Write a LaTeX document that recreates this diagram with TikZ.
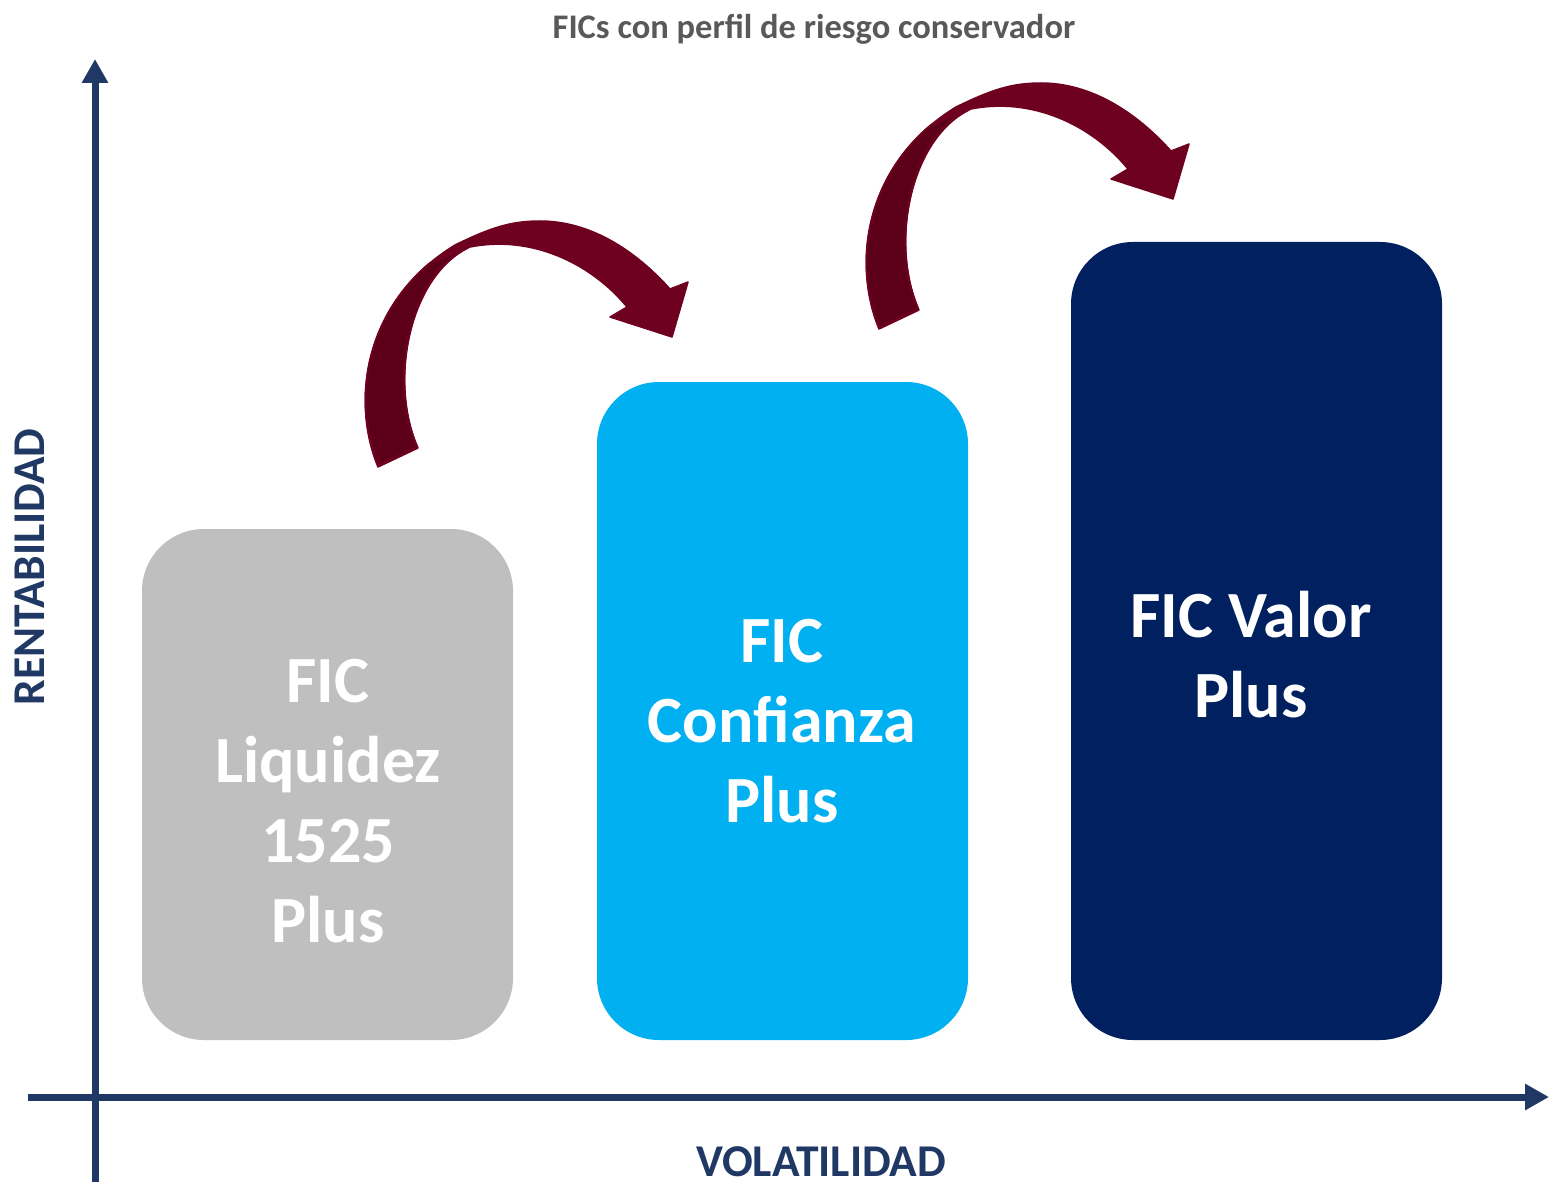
\documentclass[tikz,border=0pt]{standalone}
\usepackage{fontspec}
\setmainfont{Carlito}
\usetikzlibrary{arrows.meta}
\definecolor{axisblue}{HTML}{1F3864}
\definecolor{titlegray}{HTML}{595959}
\definecolor{boxgray}{HTML}{BFBFBF}
\definecolor{boxcyan}{HTML}{00B0F0}
\definecolor{boxnavy}{HTML}{002060}
\definecolor{arrowmain}{HTML}{6E0020}
\definecolor{arrowdark}{HTML}{5C0019}
\tikzset{
  fundbox/.style={rectangle, rounded corners=62pt, draw=none, minimum width=371pt, inner sep=0pt},
  fundtext/.style={text=white, font=\bfseries\fontsize{66}{80}\selectfont, align=center, inner sep=0pt, anchor=north},
  axisline/.style={draw=axisblue, line width=7pt, -{Triangle[length=24pt,width=25pt]}},
  axislabel/.style={text=axisblue, font=\bfseries\fontsize{45.5}{52}\selectfont, inner sep=0pt, anchor=base},
  pics/curlyarrow/.style={code={
    \filldraw[fill=arrowmain, draw=arrowmain, line width=1.5pt, line join=round]
      (378,467) .. controls (350,400) and (365,300) .. (455,245)
      .. controls (490,228) and (510,221) .. (540,221)
      .. controls (590,221) and (635,250) .. (670,289)
      -- (688,282) -- (672,337) -- (610,317) -- (627,307)
      .. controls (590,262) and (530,235) .. (470,247)
      .. controls (410,275) and (388,380) .. (418,448) -- cycle;
    \filldraw[fill=arrowdark, draw=arrowmain, line width=2pt, line join=round]
      (379,465) .. controls (352.8,406.7) and (362.4,319.7) .. (430,263)
      -- (467,248)
      .. controls (410,275) and (388,380) .. (417,447) -- cycle;
  }}
}
\begin{document}
\begin{tikzpicture}[x=1pt,y=-1pt]
\useasboundingbox (0,0) rectangle (1554,1182);
\fill[white] (0,0) rectangle (1554,1182);

% title
\node[text=titlegray, font=\bfseries\fontsize{34.5}{40}\selectfont, inner sep=0pt, anchor=base] (title) at (814,39) {FICs con perfil de riesgo conservador};

% boxes
\node[fundbox, fill=boxgray, minimum height=511pt] (liq) at (327.5,784.5) {};
\node[fundbox, fill=boxcyan, minimum height=658pt] (conf) at (782.5,711) {};
\node[fundbox, fill=boxnavy, minimum height=798pt] (valor) at (1256.5,641) {};

\node[fundtext] (liqtext) at (328,659) {FIC\\Liquidez\\1525\\Plus};
\node[fundtext] (conftext) at (782,619) {FIC\\Confianza\\Plus};
\node[fundtext] (valortext) at (1251,591) {FIC Valor\\Plus};

% curved arrows
\pic {curlyarrow};
\pic at (501,-138) {curlyarrow};

% axes
\coordinate (ybot) at (95,1182);
\coordinate (ytop) at (95,59);
\coordinate (xleft) at (28,1097);
\coordinate (xright) at (1549,1097);
\draw[axisline] (ybot) -- (ytop);
\draw[axisline] (xleft) -- (xright);

\node[axislabel, rotate=90] (ylabel) at (44,567) {RENTABILIDAD};
\node[axislabel] (xlabel) at (821,1176) {VOLATILIDAD};
\end{tikzpicture}
\end{document}
